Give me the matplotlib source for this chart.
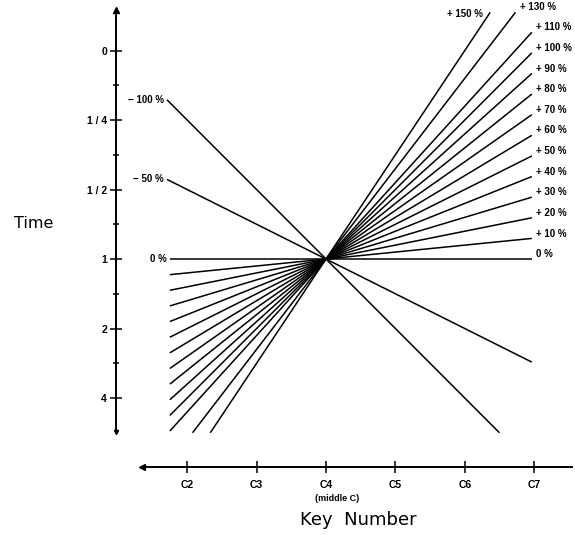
import numpy as np
import matplotlib
matplotlib.use("Agg")
import matplotlib.pyplot as plt
from matplotlib.ticker import FixedLocator

plt.rcParams['font.family'] = ['Liberation Sans', 'DejaVu Sans']

# percent slopes (time change per octave), pivot at C4 (key 40), time 1
pos_pct = [0, 10, 20, 30, 40, 50, 60, 70, 80, 90, 100, 110, 130, 150]
neg_pct = [-50, -100]

# time axis: log2(time)
time_ticks = [-3, -2, -1, 0, 1, 2]
time_labels = ["0", "1 / 4", "1 / 2", "1", "2", "4"]
time_minor = [-2.5, -1.5, -0.5, 0.5, 1.5]

# key number axis
key_ticks = [16, 28, 40, 52, 64, 76]
key_labels = ["C2", "C3", "C4", "C5", "C6", "C7"]

pivot_key = 40
key_left, key_right = 13.0, 75.6
t_top, t_bottom = -3.55, 2.5


def line_ends(p):
    s = p / 100.0
    if s > 0:
        k0 = max(key_left, pivot_key - t_bottom * 12 / s)
        k1 = min(key_right, pivot_key + (-t_top) * 12 / s)
    elif s < 0:
        k0 = max(12.5, pivot_key - (-t_top) * 12 / -s)
        k1 = min(key_right, pivot_key + t_bottom * 12 / -s)
    else:
        k0, k1 = key_left, key_right
    ks = np.array([k0, k1])
    return ks, -s * (ks - pivot_key) / 12


fig = plt.figure(figsize=(5.75, 5.35), dpi=100)
ax = fig.add_axes([0, 0, 1, 1])
ax.set_xlim(-16.37, 83.06)
ax.set_ylim(3.971, -3.727)

bold = dict(fontsize=7, fontweight='bold')

for p in pos_pct + neg_pct:
    ks, ts = line_ends(p)
    ax.plot(ks, ts, color='black', lw=1.1, solid_capstyle='butt')
    txt = "0 %" if p == 0 else ("+ %d %%" % p if p > 0 else "\u2212 %d %%" % -p)
    if p >= 0 and p != 150:
        ax.text(ks[1] + 0.8, ts[1] - 0.07, txt, ha='left', va='center', **bold)
    elif p == 150:
        ax.text(ks[1] - 1.2, ts[1] + 0.02, txt, ha='right', va='center', **bold)
    if p <= 0:
        ax.text(ks[0] - 0.5, ts[0], txt, ha='right', va='center', **bold)

# custom detached axes
for side in ['top', 'right']:
    ax.spines[side].set_visible(False)
ax.spines['left'].set_position(('data', 3.69))
ax.spines['left'].set_bounds(-3.58, 2.49)
ax.spines['bottom'].set_position(('data', 2.99))
ax.spines['bottom'].set_bounds(8.2, 82.5)
for side in ['left', 'bottom']:
    ax.spines[side].set_linewidth(1.4)

ax.yaxis.set_major_locator(FixedLocator(time_ticks))
ax.set_yticklabels(time_labels, fontsize=7.5, fontweight='bold')
ax.yaxis.set_minor_locator(FixedLocator(time_minor))
ax.xaxis.set_major_locator(FixedLocator(key_ticks))
ax.set_xticklabels(key_labels, fontsize=7.5, fontweight='bold')
ax.tick_params(axis='both', which='major', direction='inout', length=9, width=1.1)
ax.tick_params(axis='y', which='major', pad=2)
ax.tick_params(axis='x', which='major', pad=5)
ax.tick_params(axis='y', which='minor', direction='inout', length=5, width=1.1)

# arrow heads at axis ends
ax.plot([3.69], [-3.58], marker='^', color='black', ms=4, clip_on=False)
ax.plot([3.69], [2.49], marker='v', color='black', ms=3, clip_on=False)
ax.plot([8.2], [2.99], marker='<', color='black', ms=4, clip_on=False)

ax.text(38.1, 3.45, "(middle C)", ha='left', va='center', fontsize=6.5, fontweight='bold')

fig.text(34 / 575, 1 - 224 / 535, "Time", ha='center', va='center', fontsize=11.5,
         family='DejaVu Sans')
fig.text(358 / 575, 1 - 520 / 535, "Key  Number", ha='center', va='center', fontsize=13,
         family='DejaVu Sans')

fig.savefig("out.png", dpi=100)
